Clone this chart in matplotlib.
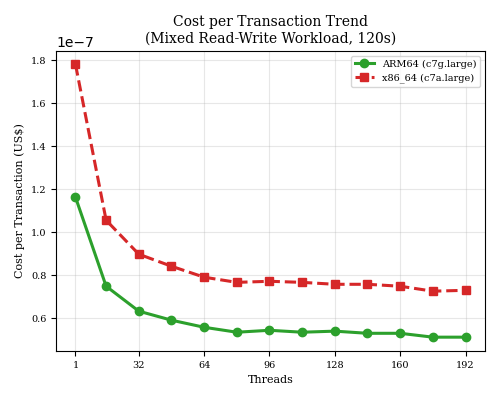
import matplotlib
matplotlib.use("Agg")
import matplotlib.pyplot as plt

threads = [1, 16, 32, 48, 64, 80, 96, 112, 128, 144, 160, 176, 192]
arm = [1.163, 0.749, 0.633, 0.591, 0.558, 0.535, 0.544, 0.535, 0.540, 0.530, 0.530, 0.512, 0.512]
x86 = [1.781, 1.056, 0.898, 0.842, 0.791, 0.767, 0.772, 0.767, 0.758, 0.758, 0.749, 0.726, 0.730]
arm = [v * 1e-7 for v in arm]
x86 = [v * 1e-7 for v in x86]
xticks = [1, 32, 64, 96, 128, 160, 192]

fig, ax = plt.subplots(figsize=(5, 4), dpi=100)
ax.plot(threads, arm, '-o', color='#2ca02c', lw=2.2, ms=6, label='ARM64 (c7g.large)')
ax.plot(threads, x86, '--s', color='#d62728', lw=2.2, ms=6, label='x86_64 (c7a.large)')
ax.set_xticks(xticks)
ax.tick_params(labelsize=7)
ax.yaxis.get_offset_text().set_fontsize(10)
ax.set_xlabel('Threads', family='serif', fontsize=8)
ax.set_ylabel('Cost per Transaction (US$)', family='serif', fontsize=8)
ax.set_title('Cost per Transaction Trend\n(Mixed Read-Write Workload, 120s)', family='serif', fontsize=10)
for lab in ax.get_xticklabels() + ax.get_yticklabels():
    lab.set_family('serif')
ax.grid(True, alpha=0.3)
leg = ax.legend(fontsize=7, loc='upper right', prop={'family': 'serif', 'size': 7})
fig.subplots_adjust(left=0.112, right=0.97, top=0.873, bottom=0.123)
fig.savefig('out.png')
